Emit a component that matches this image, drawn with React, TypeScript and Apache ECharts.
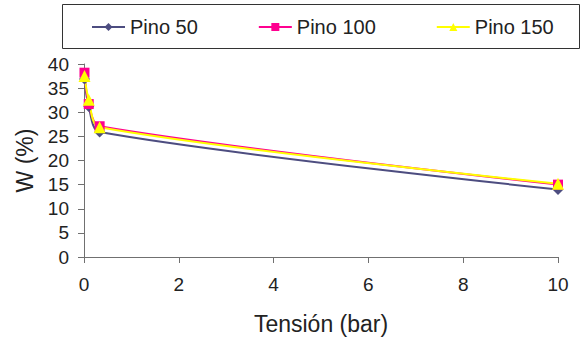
import React, { useEffect, useRef } from "react";
import * as echarts from "echarts";

const tension = [0.01, 0.1, 0.33, 10];
const pino50 = [36.9, 31.2, 25.9, 14.0];
const pino100 = [38.2, 31.7, 27.1, 15.0];
const pino150 = [37.5, 32.6, 26.9, 15.2];
const seriesNames = ["Pino 50", "Pino 100", "Pino 150"];
const xTicks = [0, 2, 4, 6, 8, 10];
const yTicks = [0, 5, 10, 15, 20, 25, 30, 35, 40];

export default function App() {
  const ref = useRef<HTMLDivElement>(null);
  useEffect(() => {
    if (!ref.current) return;
    const chart = echarts.init(ref.current, null, { renderer: "svg" });
    const toPts = (ys: number[]) => tension.map((x, i) => [x, ys[i]]);
    const font = "Liberation Sans, Arial, sans-serif";
    const axisColor = "#707070";
    const mk = (name: string, ys: number[], color: string, symbol: string, size: number) => ({
      name,
      type: "line",
      data: toPts(ys),
      smooth: 0.3,
      symbol,
      symbolSize: size,
      showAllSymbol: true,
      lineStyle: { color, width: 2 },
      itemStyle: { color },
      emphasis: { disabled: true },
    });
    chart.setOption({
      animation: false,
      backgroundColor: "#ffffff",
      textStyle: { fontFamily: font },
      graphic: [
        {
          type: "rect",
          shape: { x: 62.5, y: 4.5, width: 517, height: 44 },
          style: { fill: "none", stroke: "#333", lineWidth: 1 },
        },
      ],
      legend: {
        data: seriesNames,
        left: 86,
        top: 12,
        itemWidth: 33,
        itemHeight: 10,
        itemGap: 60,
        textStyle: { fontSize: 20, color: "#222", fontFamily: font },
      },
      grid: { left: 84, right: 24, top: 64, bottom: 86 },
      xAxis: {
        type: "value",
        min: xTicks[0],
        max: xTicks[xTicks.length - 1],
        interval: 2,
        name: "Tensión (bar)",
        nameLocation: "middle",
        nameGap: 55,
        nameTextStyle: { fontSize: 23, color: "#222", fontFamily: font },
        axisLine: { onZero: false, lineStyle: { color: axisColor, width: 1 } },
        axisTick: { show: true, length: 6, lineStyle: { color: axisColor } },
        axisLabel: { fontSize: 19, color: "#222", margin: 18, fontFamily: font },
        splitLine: { show: false },
      },
      yAxis: {
        type: "value",
        min: yTicks[0],
        max: yTicks[yTicks.length - 1],
        interval: 5,
        name: "W (%)",
        nameLocation: "middle",
        nameRotate: 90,
        nameGap: 46,
        nameTextStyle: { fontSize: 23, color: "#222", fontFamily: font },
        axisLine: { show: true, lineStyle: { color: axisColor, width: 1 } },
        axisTick: { show: true, length: 6, lineStyle: { color: axisColor } },
        axisLabel: { fontSize: 19, color: "#222", margin: 15, fontFamily: font },
        splitLine: { show: false },
      },
      series: [
        mk(seriesNames[0], pino50, "#4d4d80", "diamond", 11),
        mk(seriesNames[1], pino100, "#ff0090", "rect", 10),
        mk(seriesNames[2], pino150, "#ffff00", "triangle", 12),
      ],
    });
    return () => chart.dispose();
  }, []);
  return (
    <div
      ref={ref}
      style={{ position: "fixed", left: 0, top: 0, width: 582, height: 343 }}
    />
  );
}
